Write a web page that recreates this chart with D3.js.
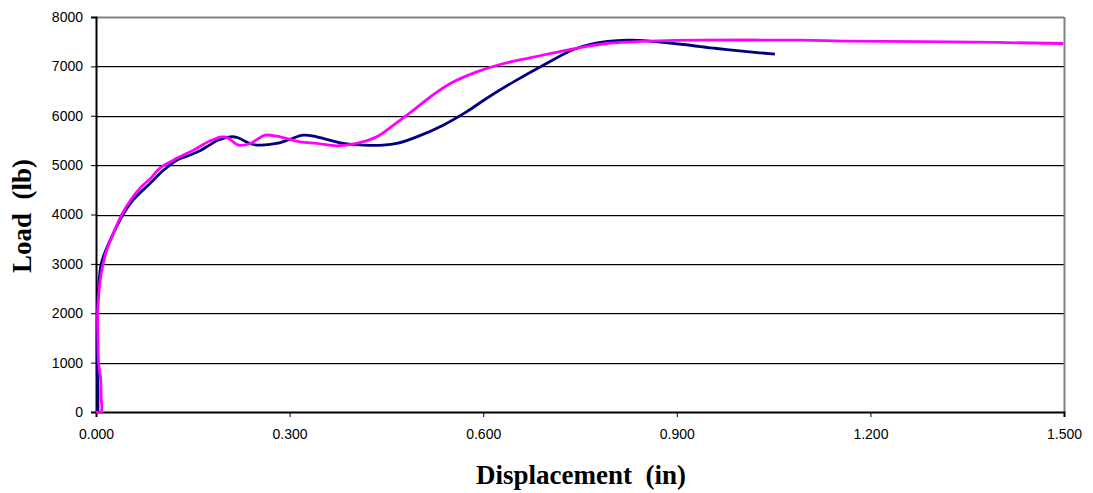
<!DOCTYPE html>
<html><head><meta charset="utf-8">
<script src="https://cdn.jsdelivr.net/npm/d3@7"></script>
<style>
html,body{margin:0;padding:0;background:#fff;}
svg{display:block;}
</style></head>
<body>
<svg id="chart" width="1093" height="493"></svg>
<script>
// Series 1 (navy)
const series1Disp = [0.003,0.003,0.002,0.0018,0.0022,0.004,0.008,0.016,0.028,0.042,0.058,0.0837,0.105,0.125,0.143,0.161,0.175,0.187,0.208,0.219,0.230,0.2387,0.249,0.265,0.280,0.300,0.321,0.342,0.383,0.414,0.445,0.466,0.497,0.538,0.574,0.605,0.647,0.693,0.740,0.771,0.802,0.828,0.858,0.910,0.962,1.013,1.052];
const series1Load = [0,400,900,1500,2000,2500,3000,3300,3650,4000,4300,4630,4900,5100,5190,5290,5400,5492,5573,5560,5490,5439,5405,5415,5439,5520,5607,5573,5439,5405,5405,5439,5573,5810,6079,6350,6686,7024,7342,7463,7517,7530,7510,7443,7362,7294,7247];
// Series 2 (magenta)
const series2Disp = [0,0.008,0.008,0.007,0.004,0.003,0.0025,0.005,0.008,0.011,0.0166,0.027,0.040,0.054,0.070,0.0837,0.100,0.1198,0.135,0.151,0.177,0.195,0.205,0.2206,0.2387,0.252,0.262,0.280,0.316,0.342,0.373,0.404,0.435,0.461,0.492,0.520,0.549,0.590,0.626,0.667,0.709,0.750,0.791,0.833,0.858,0.936,1.091,1.168,1.323,1.499];
const series2Load = [0,0,300,700,1000,1500,2000,2500,2800,3000,3280,3620,4000,4300,4560,4720,4950,5101,5200,5304,5492,5573,5547,5405,5439,5540,5607,5587,5472,5439,5391,5439,5573,5810,6113,6400,6654,6889,7038,7159,7274,7382,7463,7497,7510,7530,7530,7510,7497,7463];
const xTicks = [0, 0.3, 0.6, 0.9, 1.2, 1.5];
const yTicks = [0,1000,2000,3000,4000,5000,6000,7000,8000];
const xTitle = "Displacement  (in)";
const yTitle = "Load  (lb)";

const svg = d3.select("#chart");
const L = 96, R = 1064, T = 17, B = 412;
const x = d3.scaleLinear().domain([0, 1.5]).range([L, R]);
const y = d3.scaleLinear().domain([0, 8000]).range([B, T]);

// gridlines
const inner = yTicks.filter(v => v > 0 && v < 8000);
svg.append("g").selectAll("line").data(inner).join("line")
  .attr("x1", L).attr("x2", R)
  .attr("y1", d => Math.round(y(d)) + 0.5).attr("y2", d => Math.round(y(d)) + 0.5)
  .attr("stroke", "#000").attr("stroke-width", 1);
svg.append("g").selectAll("line").data(inner).join("line")
  .attr("x1", L).attr("x2", R)
  .attr("y1", d => Math.round(y(d)) + 1.5).attr("y2", d => Math.round(y(d)) + 1.5)
  .attr("stroke", "#c8c8c8").attr("stroke-width", 1);

// top and right border
svg.append("line").attr("x1", L).attr("x2", R).attr("y1", Math.round(y(8000)) + 0.5).attr("y2", Math.round(y(8000)) + 0.5)
  .attr("stroke", "#808080").attr("stroke-width", 2);
svg.append("line").attr("x1", Math.round(x(1.5)) + 0.5).attr("x2", Math.round(x(1.5)) + 0.5).attr("y1", T).attr("y2", B)
  .attr("stroke", "#808080").attr("stroke-width", 2);

// axes
const yAxis = d3.axisLeft(y).tickValues(yTicks).tickFormat(d3.format("d")).tickSize(5).tickPadding(8);
const gy = svg.append("g").attr("transform", `translate(${L},0)`).call(yAxis);
const xAxis = d3.axisBottom(x).tickValues(xTicks).tickFormat(d3.format(".3f")).tickSize(5).tickPadding(12);
const gx = svg.append("g").attr("transform", `translate(0,${B})`).call(xAxis);
[gx, gy].forEach(g => {
  g.select(".domain").attr("stroke", "#000").attr("stroke-width", 2);
  g.selectAll(".tick line").attr("stroke", "#000").attr("stroke-width", 1);
  g.selectAll("text").attr("font-family", "'Liberation Sans', Arial, sans-serif").attr("font-size", 14).attr("fill", "#000");
});

// lines
const line = d3.line().x(d => x(d[0])).y(d => y(d[1])).curve(d3.curveCatmullRom.alpha(0.5));
const s1 = series1Disp.map((d, i) => [d, series1Load[i]]);
const s2 = series2Disp.map((d, i) => [d, series2Load[i]]);
svg.append("path").datum(s1).attr("d", line).attr("fill", "none").attr("stroke", "#000080").attr("stroke-width", 2.8).attr("stroke-linejoin", "round");
svg.append("path").datum(s2).attr("d", line).attr("fill", "none").attr("stroke", "#FF00FF").attr("stroke-width", 2.8).attr("stroke-linejoin", "round");

// titles
svg.append("text").attr("x", (L + R) / 2 + 1).attr("y", 484).attr("text-anchor", "middle")
  .attr("font-family", "'Liberation Serif', 'Times New Roman', serif").attr("font-weight", "bold").attr("font-size", 27)
  .style("white-space", "pre").attr("xml:space", "preserve").text(xTitle);
svg.append("text").attr("transform", "translate(31,216) rotate(-90)").attr("text-anchor", "middle")
  .attr("font-family", "'Liberation Serif', 'Times New Roman', serif").attr("font-weight", "bold").attr("font-size", 27)
  .style("white-space", "pre").attr("xml:space", "preserve").text(yTitle);
</script>
</body></html>
